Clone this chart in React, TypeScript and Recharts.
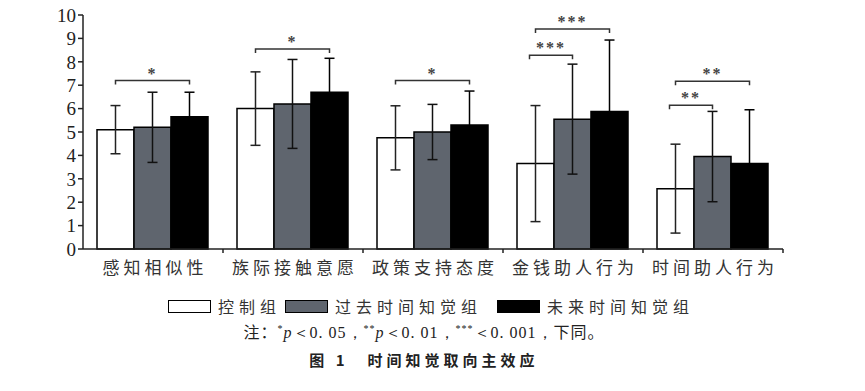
import { BarChart, Bar, XAxis, YAxis, ErrorBar, LabelList } from "recharts";

const categories = ["感知相似性", "族际接触意愿", "政策支持态度", "金钱助人行为", "时间助人行为"];
const seriesNames = ["控制组", "过去时间知觉组", "未来时间知觉组"];

const controlMean = [5.1, 6.0, 4.75, 3.65, 2.58];
const controlSd = [1.03, 1.57, 1.37, 2.48, 1.9];
const pastMean = [5.2, 6.2, 5.0, 5.55, 3.95];
const pastSd = [1.5, 1.9, 1.18, 2.35, 1.93];
const futureMean = [5.65, 6.7, 5.3, 5.88, 3.65];
const futureSd = [1.05, 1.45, 1.45, 3.05, 2.3];

const yTicks = [0, 1, 2, 3, 4, 5, 6, 7, 8, 9, 10];

// significance brackets: category, from bar, to bar, height, stars
const brackets = [
  { cat: 0, from: 0, to: 2, level: 7.2, stars: "*" },
  { cat: 1, from: 0, to: 2, level: 8.55, stars: "*" },
  { cat: 2, from: 0, to: 2, level: 7.2, stars: "*" },
  { cat: 3, from: 0, to: 1, level: 8.28, stars: "***" },
  { cat: 3, from: 0, to: 2, level: 9.4, stars: "***" },
  { cat: 4, from: 0, to: 1, level: 6.14, stars: "**" },
  { cat: 4, from: 0, to: 2, level: 7.17, stars: "**" },
];

const data = categories.map((name, i) => ({
  name,
  control: controlMean[i],
  controlSd: controlSd[i],
  past: pastMean[i],
  pastSd: pastSd[i],
  future: futureMean[i],
  futureSd: futureSd[i],
}));

const fills = ["#ffffff", "#5f656e", "#000000"];
const CJK = '"Noto Sans CJK SC", "Noto Sans", sans-serif';
const SERIF = '"Liberation Serif", "DejaVu Serif", serif';

function XTick(props: any) {
  const { x, y, payload } = props;
  const half = payload && payload.offset ? payload.offset : 70;
  return (
    <g>
      <line x1={x + half} x2={x + half} y1={y} y2={y + 4} stroke="#222" strokeWidth={1.5} />
      <text x={x + 2} y={y + 25} textAnchor="middle" fontSize={17} fontFamily={CJK} fill="#333" letterSpacing={4}>
        {payload.value}
      </text>
    </g>
  );
}

// brackets drawn from the first bar's rect: scale from bar height/value
function BracketLabel(props: any) {
  const { x, y, width, height, value, index } = props;
  if (!value) return null;
  const base = y + height;
  const perUnit = height / value;
  const items = brackets.filter((b) => b.cat === index);
  return (
    <g>
      {items.map((b, k) => {
        const ly = base - b.level * perUnit;
        const x1 = x + width / 2 + b.from * width - (b.to === 1 ? 6 : 0);
        const x2 = x + width / 2 + b.to * width;
        return (
          <g key={k}>
            <path d={`M${x1},${ly + 4} L${x1},${ly} L${x2},${ly} L${x2},${ly + 4}`} fill="none" stroke="#333" strokeWidth={1.5} />
            <text x={(x1 + x2) / 2} y={ly - 2} textAnchor="middle" fontSize={16} fontWeight="bold" fontFamily={SERIF} fill="#444" letterSpacing={2}>
              {b.stars}
            </text>
          </g>
        );
      })}
    </g>
  );
}

export default function App() {
  const legendLeft = [160, 277, 489];
  return (
    <div style={{ position: "relative", width: 849, height: 391, marginTop: -8, background: "#fff" }}>
      <BarChart width={780} height={278} data={data} margin={{ top: 15, right: 5, left: 35, bottom: 0 }} barCategoryGap="10%" barGap={0}>
        <XAxis
          dataKey="name"
          height={29}
          tickLine={false}
          tickSize={0}
          tickMargin={0}
          interval={0}
          axisLine={{ stroke: "#222", strokeWidth: 1.5 }}
          tick={<XTick />}
        />
        <YAxis
          width={40}
          domain={[0, 10]}
          ticks={yTicks}
          interval={0}
          tickSize={5}
          tickLine={{ stroke: "#222", strokeWidth: 1.5 }}
          axisLine={{ stroke: "#222", strokeWidth: 1.5 }}
          tick={{ fontSize: 19, fontFamily: SERIF, fill: "#222" }}
        />
        <Bar dataKey="control" fill={fills[0]} stroke="#000" strokeWidth={1.5} isAnimationActive={false}>
          <ErrorBar dataKey="controlSd" width={5} stroke="#222" strokeWidth={1.5} />
          <LabelList dataKey="control" content={<BracketLabel />} />
        </Bar>
        <Bar dataKey="past" fill={fills[1]} stroke="#000" strokeWidth={1.5} isAnimationActive={false}>
          <ErrorBar dataKey="pastSd" width={5} stroke="#111" strokeWidth={1.5} />
        </Bar>
        <Bar dataKey="future" fill={fills[2]} stroke="#000" strokeWidth={1.5} isAnimationActive={false}>
          <ErrorBar dataKey="futureSd" width={5} stroke="#000" strokeWidth={1.5} />
        </Bar>
      </BarChart>

      {seriesNames.map((n, i) => (
        <div
          key={n}
          style={{ position: "absolute", left: legendLeft[i], top: 294, display: "flex", alignItems: "center", whiteSpace: "nowrap" }}
        >
          <div style={{ width: 41, height: 11, background: fills[i], border: "1.5px solid #000" }} />
          <span style={{ marginLeft: 7, fontSize: 16, fontFamily: CJK, color: "#333", letterSpacing: 5 }}>{n}</span>
        </div>
      ))}

      <div style={{ position: "absolute", left: 0, width: 832, top: 319, textAlign: "center", fontSize: 16, color: "#222", fontFamily: SERIF, letterSpacing: 1, whiteSpace: "nowrap" }}>
        <span style={{ fontFamily: CJK }}>注：</span>
        <sup style={{ fontSize: 10 }}>*</sup>
        <i>p</i>＜0. 05，<sup style={{ fontSize: 10 }}>**</sup>
        <i>p</i>＜0. 01，<sup style={{ fontSize: 10 }}>***</sup>＜0. 001，<span style={{ fontFamily: CJK }}>下同。</span>
      </div>
      <div style={{ position: "absolute", left: 0, width: 832, top: 349, textAlign: "center", fontSize: 15, fontWeight: "bold", color: "#222", fontFamily: CJK, letterSpacing: 4, whiteSpace: "pre" }}>
        {"图 1　时间知觉取向主效应"}
      </div>
    </div>
  );
}
